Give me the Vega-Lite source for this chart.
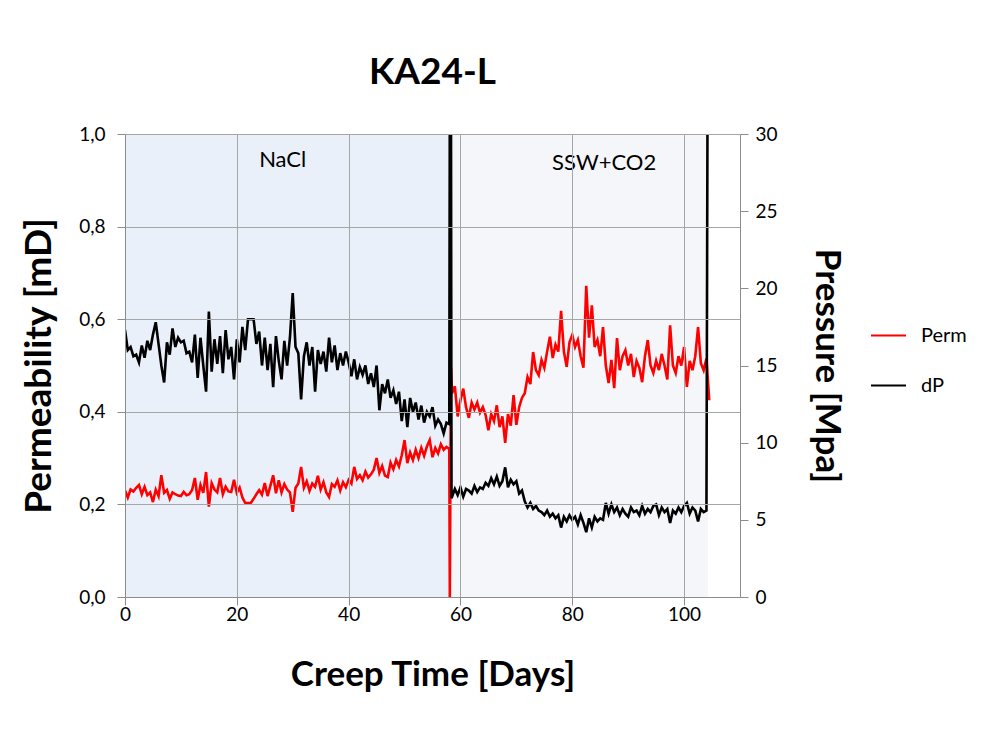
{
  "$schema": "https://vega.github.io/schema/vega-lite/v6.json",
  "width": 615,
  "height": 463,
  "autosize": {"type": "none"},
  "padding": {"left": 125, "top": 134, "right": 268, "bottom": 150},
  "background": "white",
  "title": {"text": "KA24-L", "fontSize": 37, "font": "Lato", "fontWeight": "bold", "anchor": "middle", "frame": "group", "offset": 33, "color": "#000000"},
  "config": {
    "font": "Lato",
    "view": {"stroke": null},
    "axis": {
      "domainColor": "#8c8c8c",
      "tickColor": "#8c8c8c",
      "gridColor": "#a6a6a6",
      "labelFont": "Lato",
      "labelFontSize": 19,
      "labelColor": "#000000",
      "titleFont": "Lato",
      "titleFontSize": 35,
      "titleFontWeight": "bold",
      "titleColor": "#000000",
      "tickSize": 8
    },
    "legend": {
      "orient": "none",
      "legendX": 745,
      "legendY": 183,
      "padding": 0,
      "symbolType": "stroke",
      "symbolSize": 1225,
      "symbolStrokeWidth": 2,
      "labelFontSize": 20,
      "labelFont": "Lato",
      "labelColor": "#000000",
      "labelOffset": 14,
      "rowPadding": 21,
      "title": null
    }
  },
  "datasets": {
    "phases": [
      {"phase": "NaCl", "start": 0, "end": 58, "lx": 28.2, "ly": 0.944},
      {"phase": "SSW+CO2", "start": 58, "end": 104.3, "lx": 85.7, "ly": 0.937}
    ],
    "perm": [
      {"day": 0, "perm": 0.23}, {"day": 0.5, "perm": 0.215}, {"day": 1, "perm": 0.232}, {"day": 1.5, "perm": 0.228},
      {"day": 2, "perm": 0.236}, {"day": 2.5, "perm": 0.242}, {"day": 3, "perm": 0.222}, {"day": 3.5, "perm": 0.238},
      {"day": 4, "perm": 0.22}, {"day": 4.5, "perm": 0.226}, {"day": 5, "perm": 0.205}, {"day": 5.5, "perm": 0.232},
      {"day": 6, "perm": 0.218}, {"day": 6.5, "perm": 0.263}, {"day": 7, "perm": 0.225}, {"day": 7.5, "perm": 0.231},
      {"day": 8, "perm": 0.212}, {"day": 8.5, "perm": 0.226}, {"day": 9, "perm": 0.222}, {"day": 9.5, "perm": 0.219},
      {"day": 10, "perm": 0.218}, {"day": 10.5, "perm": 0.227}, {"day": 11, "perm": 0.22}, {"day": 11.5, "perm": 0.222},
      {"day": 12, "perm": 0.231}, {"day": 12.5, "perm": 0.257}, {"day": 13, "perm": 0.21}, {"day": 13.5, "perm": 0.242},
      {"day": 14, "perm": 0.225}, {"day": 14.5, "perm": 0.27}, {"day": 15, "perm": 0.195}, {"day": 15.5, "perm": 0.246},
      {"day": 16, "perm": 0.232}, {"day": 16.5, "perm": 0.226}, {"day": 17, "perm": 0.257}, {"day": 17.5, "perm": 0.222},
      {"day": 18, "perm": 0.238}, {"day": 18.5, "perm": 0.228}, {"day": 19, "perm": 0.227}, {"day": 19.5, "perm": 0.253},
      {"day": 20, "perm": 0.225}, {"day": 20.5, "perm": 0.236}, {"day": 21, "perm": 0.215}, {"day": 21.5, "perm": 0.203},
      {"day": 22, "perm": 0.203}, {"day": 22.5, "perm": 0.203}, {"day": 23, "perm": 0.212}, {"day": 23.5, "perm": 0.222},
      {"day": 24, "perm": 0.231}, {"day": 24.5, "perm": 0.221}, {"day": 25, "perm": 0.246}, {"day": 25.5, "perm": 0.218},
      {"day": 26, "perm": 0.24}, {"day": 26.5, "perm": 0.263}, {"day": 27, "perm": 0.224}, {"day": 27.5, "perm": 0.252},
      {"day": 28, "perm": 0.226}, {"day": 28.5, "perm": 0.244}, {"day": 29, "perm": 0.232}, {"day": 29.5, "perm": 0.226},
      {"day": 30, "perm": 0.184}, {"day": 30.5, "perm": 0.236}, {"day": 31, "perm": 0.245}, {"day": 31.5, "perm": 0.281},
      {"day": 32, "perm": 0.236}, {"day": 32.5, "perm": 0.25}, {"day": 33, "perm": 0.229}, {"day": 33.5, "perm": 0.245},
      {"day": 34, "perm": 0.238}, {"day": 34.5, "perm": 0.262}, {"day": 35, "perm": 0.232}, {"day": 35.5, "perm": 0.248},
      {"day": 36, "perm": 0.226}, {"day": 36.5, "perm": 0.216}, {"day": 37, "perm": 0.244}, {"day": 37.5, "perm": 0.238},
      {"day": 38, "perm": 0.252}, {"day": 38.5, "perm": 0.23}, {"day": 39, "perm": 0.248}, {"day": 39.5, "perm": 0.237},
      {"day": 40, "perm": 0.253}, {"day": 40.5, "perm": 0.245}, {"day": 41, "perm": 0.281}, {"day": 41.5, "perm": 0.255},
      {"day": 42, "perm": 0.263}, {"day": 42.5, "perm": 0.252}, {"day": 43, "perm": 0.271}, {"day": 43.5, "perm": 0.258},
      {"day": 44, "perm": 0.265}, {"day": 44.5, "perm": 0.275}, {"day": 45, "perm": 0.3}, {"day": 45.5, "perm": 0.268},
      {"day": 46, "perm": 0.283}, {"day": 46.5, "perm": 0.262}, {"day": 47, "perm": 0.259}, {"day": 47.5, "perm": 0.29},
      {"day": 48, "perm": 0.276}, {"day": 48.5, "perm": 0.296}, {"day": 49, "perm": 0.282}, {"day": 49.5, "perm": 0.306},
      {"day": 50, "perm": 0.339}, {"day": 50.5, "perm": 0.289}, {"day": 51, "perm": 0.312}, {"day": 51.5, "perm": 0.296},
      {"day": 52, "perm": 0.318}, {"day": 52.5, "perm": 0.3}, {"day": 53, "perm": 0.322}, {"day": 53.5, "perm": 0.305},
      {"day": 54, "perm": 0.325}, {"day": 54.5, "perm": 0.339}, {"day": 55, "perm": 0.302}, {"day": 55.5, "perm": 0.322},
      {"day": 56, "perm": 0.31}, {"day": 56.5, "perm": 0.33}, {"day": 57, "perm": 0.318}, {"day": 57.5, "perm": 0.324},
      {"day": 58, "perm": 0.32}, {"day": 58.1, "perm": 0.0}, {"day": 58.3, "perm": 0.495}, {"day": 58.5, "perm": 0.44},
      {"day": 59, "perm": 0.455}, {"day": 59.5, "perm": 0.39}, {"day": 60, "perm": 0.425}, {"day": 60.5, "perm": 0.45},
      {"day": 61, "perm": 0.41}, {"day": 61.5, "perm": 0.387}, {"day": 62, "perm": 0.42}, {"day": 62.5, "perm": 0.405},
      {"day": 63, "perm": 0.42}, {"day": 63.5, "perm": 0.398}, {"day": 64, "perm": 0.41}, {"day": 64.5, "perm": 0.393},
      {"day": 65, "perm": 0.36}, {"day": 65.5, "perm": 0.395}, {"day": 66, "perm": 0.38}, {"day": 66.5, "perm": 0.414},
      {"day": 67, "perm": 0.367}, {"day": 67.5, "perm": 0.39}, {"day": 68, "perm": 0.333}, {"day": 68.5, "perm": 0.395},
      {"day": 69, "perm": 0.37}, {"day": 69.5, "perm": 0.436}, {"day": 70, "perm": 0.372}, {"day": 70.5, "perm": 0.41},
      {"day": 71, "perm": 0.43}, {"day": 71.5, "perm": 0.44}, {"day": 72, "perm": 0.475}, {"day": 72.5, "perm": 0.46},
      {"day": 73, "perm": 0.529}, {"day": 73.5, "perm": 0.49}, {"day": 74, "perm": 0.479}, {"day": 74.5, "perm": 0.512},
      {"day": 75, "perm": 0.495}, {"day": 75.5, "perm": 0.53}, {"day": 76, "perm": 0.562}, {"day": 76.5, "perm": 0.516},
      {"day": 77, "perm": 0.545}, {"day": 77.5, "perm": 0.53}, {"day": 78, "perm": 0.618}, {"day": 78.5, "perm": 0.53},
      {"day": 79, "perm": 0.497}, {"day": 79.5, "perm": 0.55}, {"day": 80, "perm": 0.566}, {"day": 80.5, "perm": 0.54},
      {"day": 81, "perm": 0.555}, {"day": 81.5, "perm": 0.52}, {"day": 82, "perm": 0.495}, {"day": 82.5, "perm": 0.672},
      {"day": 83, "perm": 0.56}, {"day": 83.5, "perm": 0.63}, {"day": 84, "perm": 0.54}, {"day": 84.5, "perm": 0.555},
      {"day": 85, "perm": 0.52}, {"day": 85.5, "perm": 0.583}, {"day": 86, "perm": 0.5}, {"day": 86.5, "perm": 0.462},
      {"day": 87, "perm": 0.512}, {"day": 87.5, "perm": 0.451}, {"day": 88, "perm": 0.559}, {"day": 88.5, "perm": 0.49},
      {"day": 89, "perm": 0.52}, {"day": 89.5, "perm": 0.533}, {"day": 90, "perm": 0.5}, {"day": 90.5, "perm": 0.525},
      {"day": 91, "perm": 0.475}, {"day": 91.5, "perm": 0.51}, {"day": 92, "perm": 0.495}, {"day": 92.5, "perm": 0.464},
      {"day": 93, "perm": 0.52}, {"day": 93.5, "perm": 0.555}, {"day": 94, "perm": 0.5}, {"day": 94.5, "perm": 0.484},
      {"day": 95, "perm": 0.51}, {"day": 95.5, "perm": 0.49}, {"day": 96, "perm": 0.525}, {"day": 96.5, "perm": 0.5},
      {"day": 97, "perm": 0.47}, {"day": 97.5, "perm": 0.587}, {"day": 98, "perm": 0.5}, {"day": 98.5, "perm": 0.484},
      {"day": 99, "perm": 0.52}, {"day": 99.5, "perm": 0.5}, {"day": 100, "perm": 0.54}, {"day": 100.5, "perm": 0.454},
      {"day": 101, "perm": 0.51}, {"day": 101.5, "perm": 0.49}, {"day": 102, "perm": 0.52}, {"day": 102.5, "perm": 0.583},
      {"day": 103, "perm": 0.505}, {"day": 103.5, "perm": 0.49}, {"day": 104, "perm": 0.515}, {"day": 104.5, "perm": 0.425}
    ],
    "dp": [
      {"day": 0, "dp": 17.3}, {"day": 0.5, "dp": 16.0}, {"day": 1, "dp": 16.2}, {"day": 1.5, "dp": 15.6},
      {"day": 2, "dp": 15.7}, {"day": 2.5, "dp": 15.2}, {"day": 3, "dp": 16.3}, {"day": 3.5, "dp": 15.5},
      {"day": 4, "dp": 16.6}, {"day": 4.5, "dp": 16.0}, {"day": 5, "dp": 17.0}, {"day": 5.5, "dp": 17.8},
      {"day": 6, "dp": 16.4}, {"day": 6.5, "dp": 15.0}, {"day": 7, "dp": 13.9}, {"day": 7.5, "dp": 16.5},
      {"day": 8, "dp": 15.7}, {"day": 8.5, "dp": 17.4}, {"day": 9, "dp": 16.2}, {"day": 9.5, "dp": 16.8},
      {"day": 10, "dp": 16.5}, {"day": 10.5, "dp": 16.6}, {"day": 11, "dp": 15.8}, {"day": 11.5, "dp": 15.9},
      {"day": 12, "dp": 15.2}, {"day": 12.5, "dp": 17.0}, {"day": 13, "dp": 14.2}, {"day": 13.5, "dp": 16.8},
      {"day": 14, "dp": 15.0}, {"day": 14.5, "dp": 13.3}, {"day": 15, "dp": 18.5}, {"day": 15.5, "dp": 14.6},
      {"day": 16, "dp": 16.7}, {"day": 16.5, "dp": 15.1}, {"day": 17, "dp": 16.9}, {"day": 17.5, "dp": 14.5},
      {"day": 18, "dp": 17.3}, {"day": 18.5, "dp": 15.4}, {"day": 19, "dp": 16.2}, {"day": 19.5, "dp": 14.1},
      {"day": 20, "dp": 16.7}, {"day": 20.5, "dp": 15.2}, {"day": 21, "dp": 17.5}, {"day": 21.5, "dp": 16.0},
      {"day": 22, "dp": 18.0}, {"day": 22.5, "dp": 18.0}, {"day": 23, "dp": 18.0}, {"day": 23.5, "dp": 16.4},
      {"day": 24, "dp": 17.2}, {"day": 24.5, "dp": 15.0}, {"day": 25, "dp": 16.8}, {"day": 25.5, "dp": 14.7},
      {"day": 26, "dp": 16.4}, {"day": 26.5, "dp": 13.6}, {"day": 27, "dp": 16.9}, {"day": 27.5, "dp": 15.3},
      {"day": 28, "dp": 14.1}, {"day": 28.5, "dp": 16.6}, {"day": 29, "dp": 15.0}, {"day": 29.5, "dp": 16.8},
      {"day": 30, "dp": 19.7}, {"day": 30.5, "dp": 16.2}, {"day": 31, "dp": 15.8}, {"day": 31.5, "dp": 12.8},
      {"day": 32, "dp": 15.6}, {"day": 32.5, "dp": 16.5}, {"day": 33, "dp": 15.0}, {"day": 33.5, "dp": 16.2},
      {"day": 34, "dp": 13.3}, {"day": 34.5, "dp": 16.0}, {"day": 35, "dp": 15.1}, {"day": 35.5, "dp": 15.9},
      {"day": 36, "dp": 14.6}, {"day": 36.5, "dp": 16.8}, {"day": 37, "dp": 15.2}, {"day": 37.5, "dp": 16.3},
      {"day": 38, "dp": 14.7}, {"day": 38.5, "dp": 15.8}, {"day": 39, "dp": 15.0}, {"day": 39.5, "dp": 15.9},
      {"day": 40, "dp": 15.2}, {"day": 40.5, "dp": 14.3}, {"day": 41, "dp": 15.4}, {"day": 41.5, "dp": 14.1},
      {"day": 42, "dp": 14.9}, {"day": 42.5, "dp": 14.4}, {"day": 43, "dp": 15.0}, {"day": 43.5, "dp": 13.8},
      {"day": 44, "dp": 14.5}, {"day": 44.5, "dp": 13.6}, {"day": 45, "dp": 15.0}, {"day": 45.5, "dp": 12.1},
      {"day": 46, "dp": 13.8}, {"day": 46.5, "dp": 13.2}, {"day": 47, "dp": 14.1}, {"day": 47.5, "dp": 12.9},
      {"day": 48, "dp": 13.4}, {"day": 48.5, "dp": 12.5}, {"day": 49, "dp": 13.3}, {"day": 49.5, "dp": 11.4},
      {"day": 50, "dp": 12.8}, {"day": 50.5, "dp": 11.0}, {"day": 51, "dp": 12.9}, {"day": 51.5, "dp": 12.0},
      {"day": 52, "dp": 12.6}, {"day": 52.5, "dp": 11.5}, {"day": 53, "dp": 12.4}, {"day": 53.5, "dp": 11.3},
      {"day": 54, "dp": 12.0}, {"day": 54.5, "dp": 11.7}, {"day": 55, "dp": 12.3}, {"day": 55.5, "dp": 11.1},
      {"day": 56, "dp": 11.5}, {"day": 56.5, "dp": 11.2}, {"day": 57, "dp": 10.6}, {"day": 57.5, "dp": 11.3},
      {"day": 58, "dp": 11.2}, {"day": 58.1, "dp": 33}, {"day": 58.3, "dp": 33}, {"day": 58.4, "dp": 6.4},
      {"day": 59, "dp": 7.0}, {"day": 59.5, "dp": 6.6}, {"day": 60, "dp": 7.1}, {"day": 60.5, "dp": 6.5},
      {"day": 61, "dp": 7.0}, {"day": 61.5, "dp": 6.9}, {"day": 62, "dp": 6.7}, {"day": 62.5, "dp": 7.2},
      {"day": 63, "dp": 6.8}, {"day": 63.5, "dp": 7.1}, {"day": 64, "dp": 7.0}, {"day": 64.5, "dp": 7.4},
      {"day": 65, "dp": 7.2}, {"day": 65.5, "dp": 7.7}, {"day": 66, "dp": 7.3}, {"day": 66.5, "dp": 7.8},
      {"day": 67, "dp": 7.2}, {"day": 67.5, "dp": 7.5}, {"day": 68, "dp": 8.4}, {"day": 68.5, "dp": 7.1},
      {"day": 69, "dp": 7.6}, {"day": 69.5, "dp": 7.3}, {"day": 70, "dp": 7.5}, {"day": 70.5, "dp": 6.7},
      {"day": 71, "dp": 6.9}, {"day": 71.5, "dp": 6.2}, {"day": 72, "dp": 5.8}, {"day": 72.5, "dp": 6.1},
      {"day": 73, "dp": 5.7}, {"day": 73.5, "dp": 5.9}, {"day": 74, "dp": 5.6}, {"day": 74.5, "dp": 5.5},
      {"day": 75, "dp": 5.3}, {"day": 75.5, "dp": 5.6}, {"day": 76, "dp": 5.2}, {"day": 76.5, "dp": 5.4},
      {"day": 77, "dp": 5.1}, {"day": 77.5, "dp": 5.3}, {"day": 78, "dp": 4.5}, {"day": 78.5, "dp": 5.2},
      {"day": 79, "dp": 4.9}, {"day": 79.5, "dp": 5.3}, {"day": 80, "dp": 5.0}, {"day": 80.5, "dp": 5.2},
      {"day": 81, "dp": 4.7}, {"day": 81.5, "dp": 5.3}, {"day": 82, "dp": 4.8}, {"day": 82.5, "dp": 4.2},
      {"day": 83, "dp": 5.1}, {"day": 83.5, "dp": 4.5}, {"day": 84, "dp": 5.2}, {"day": 84.5, "dp": 4.9},
      {"day": 85, "dp": 5.1}, {"day": 85.5, "dp": 5.0}, {"day": 86, "dp": 6.1}, {"day": 86.5, "dp": 5.4},
      {"day": 87, "dp": 6.0}, {"day": 87.5, "dp": 5.5}, {"day": 88, "dp": 5.8}, {"day": 88.5, "dp": 5.3},
      {"day": 89, "dp": 5.7}, {"day": 89.5, "dp": 5.4}, {"day": 90, "dp": 5.2}, {"day": 90.5, "dp": 5.8},
      {"day": 91, "dp": 5.5}, {"day": 91.5, "dp": 5.6}, {"day": 92, "dp": 5.3}, {"day": 92.5, "dp": 5.9},
      {"day": 93, "dp": 5.4}, {"day": 93.5, "dp": 5.7}, {"day": 94, "dp": 5.5}, {"day": 94.5, "dp": 5.9},
      {"day": 95, "dp": 6.0}, {"day": 95.5, "dp": 5.3}, {"day": 96, "dp": 5.8}, {"day": 96.5, "dp": 5.5},
      {"day": 97, "dp": 5.7}, {"day": 97.5, "dp": 4.8}, {"day": 98, "dp": 5.6}, {"day": 98.5, "dp": 5.4},
      {"day": 99, "dp": 5.8}, {"day": 99.5, "dp": 5.5}, {"day": 100, "dp": 5.9}, {"day": 100.5, "dp": 6.1},
      {"day": 101, "dp": 5.4}, {"day": 101.5, "dp": 5.8}, {"day": 102, "dp": 5.6}, {"day": 102.5, "dp": 4.9},
      {"day": 103, "dp": 5.7}, {"day": 103.5, "dp": 5.5}, {"day": 104, "dp": 5.6}, {"day": 104.2, "dp": 33}
    ]
  },
  "layer": [
    {
      "layer": [
        {
          "data": {"name": "phases"},
          "mark": {"type": "rect", "zindex": 0},
          "encoding": {
            "x": {"field": "start", "type": "quantitative", "scale": {"domain": [0, 110]}, "title": "Creep Time [Days]",
                  "axis": {"values": [0, 20, 40, 60, 80, 100], "grid": true, "format": "d", "labelFlush": false, "labelPadding": 0, "titlePadding": 33, "zindex": 1}},
            "x2": {"field": "end"},
            "fill": {"field": "phase", "type": "nominal", "scale": {"domain": ["NaCl", "SSW+CO2"], "range": ["#eaf0fa", "#f5f6f9"]}, "legend": null}
          }
        },
        {
          "data": {"name": "phases"},
          "mark": {"type": "text", "fontSize": 22, "font": "Lato", "color": "#000000", "zindex": 2},
          "encoding": {
            "x": {"field": "lx", "type": "quantitative", "scale": {"domain": [0, 110]}, "title": "Creep Time [Days]"},
            "y": {"field": "ly", "type": "quantitative", "scale": {"domain": [0, 1]}, "title": "Permeability [mD]"},
            "text": {"field": "phase"}
          }
        },
        {
          "data": {"name": "perm"},
          "mark": {"type": "line", "strokeWidth": 2.6, "clip": true, "zindex": 2},
          "encoding": {
            "x": {"field": "day", "type": "quantitative", "scale": {"domain": [0, 110]}, "title": "Creep Time [Days]"},
            "y": {"field": "perm", "type": "quantitative", "scale": {"domain": [0, 1]}, "title": "Permeability [mD]",
                  "axis": {"orient": "left", "values": [0, 0.2, 0.4, 0.6, 0.8, 1.0], "grid": true, "labelPadding": 12, "titlePadding": 20,
                           "titleFontSize": 37, "zindex": 1,
                           "labelExpr": "replace(format(datum.value, '.1f'), '.', ',')"}},
            "color": {"datum": "Perm", "type": "nominal", "scale": {"domain": ["Perm", "dP"], "range": ["#ff0000", "#000000"]}}
          }
        }
      ]
    },
    {
      "data": {"name": "dp"},
      "mark": {"type": "line", "strokeWidth": 2.6, "clip": true, "zindex": 2},
      "encoding": {
        "x": {"field": "day", "type": "quantitative", "scale": {"domain": [0, 110]}, "title": "Creep Time [Days]"},
        "y": {"field": "dp", "type": "quantitative", "scale": {"domain": [0, 30]}, "title": "Pressure [Mpa]",
              "axis": {"orient": "right", "values": [0, 5, 10, 15, 20, 25, 30], "grid": false, "format": "d", "labelPadding": 7, "titlePadding": 31, "zindex": 1}},
        "color": {"datum": "dP", "type": "nominal", "scale": {"domain": ["Perm", "dP"], "range": ["#ff0000", "#000000"]}}
      }
    }
  ],
  "resolve": {"scale": {"y": "independent"}}
}
